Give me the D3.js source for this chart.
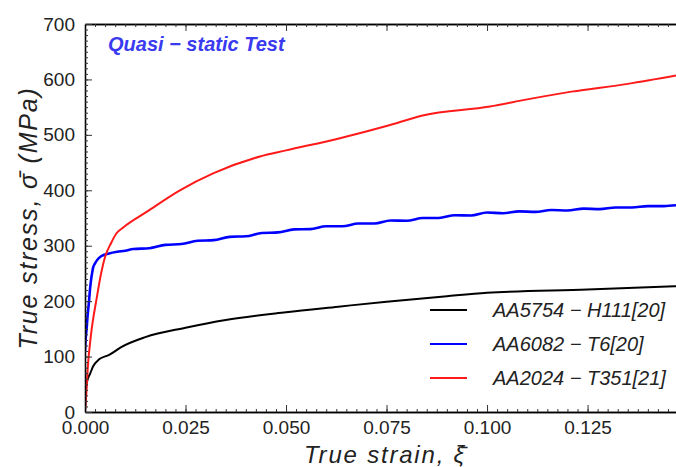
<!DOCTYPE html>
<html>
<head>
    <meta charset="utf-8">
    <script src="https://cdnjs.cloudflare.com/ajax/libs/d3/7.8.5/d3.min.js"></script>
    <style>
        html, body {
            margin: 0;
            padding: 0;
            background: #fff;
        }
    </style>
</head>
<body>
    <div id="chart"></div>
    <script>
        // AA5754-H111 [20]
        const strain5754 = [0, 0.0003, 0.0008, 0.0012, 0.002, 0.0035, 0.006, 0.009, 0.015, 0.025, 0.035, 0.05, 0.063, 0.075, 0.09, 0.1, 0.125, 0.147];
        const stress5754 = [0, 45, 62, 68, 82, 95, 103, 117, 135, 152, 166, 180, 190, 199, 209, 215, 221, 227];

        // AA6082-T6 [20]
        const strain6082 = [0, 0.0002, 0.0004, 0.0006, 0.0008, 0.001, 0.0012, 0.0015, 0.0018, 0.002, 0.0025, 0.003, 0.004, 0.006, 0.008, 0.01,
            0.012, 0.016, 0.020, 0.024, 0.028, 0.032, 0.036, 0.040, 0.044, 0.048, 0.052, 0.056, 0.060, 0.064, 0.068, 0.072,
            0.076, 0.080, 0.084, 0.088, 0.092, 0.096, 0.100, 0.104, 0.108, 0.112, 0.116, 0.120, 0.124, 0.128, 0.132, 0.136,
            0.140, 0.144, 0.147];
        const stress6082 = [110, 135, 150, 170, 185, 200, 218, 238, 252, 260, 268, 274, 281, 286, 289, 291,
            294, 295.5, 301.5, 303, 309, 310, 316, 317, 323, 324, 329.5, 330, 335, 335, 340, 340,
            345.5, 345, 350, 350, 355, 354.5, 360, 358.5, 362, 361, 364.5, 363.5, 367, 366, 369, 369,
            371.5, 371.5, 373];

        // AA2024-T351 [21]
        const strain2024 = [0, 0.0003, 0.0007, 0.0015, 0.0029, 0.004, 0.005, 0.0065, 0.0078, 0.0095, 0.0153, 0.0236, 0.032, 0.0435, 0.05, 0.0634, 0.075, 0.084, 0.1007, 0.11, 0.121, 0.135, 0.147];
        const stress2024 = [0, 30, 81, 140, 205, 250, 280, 305, 322, 333, 361, 400, 431, 461, 472, 494, 516, 535, 551, 564, 578, 592, 607];

        const seriesNames = ['AA5754 − H111[20]', 'AA6082 − T6[20]', 'AA2024 − T351[21]'];
        const seriesColors = ['#000000', '#0000ff', '#ff1a1a'];
        const xTicks = [0, 0.025, 0.05, 0.075, 0.1, 0.125];
        const yTicks = [0, 100, 200, 300, 400, 500, 600, 700];

        const font = '"Liberation Sans", Arial, sans-serif';

        const width = 676, height = 467;
        const margin = { top: 24, right: 0, bottom: 55, left: 85 };

        const svg = d3.select('#chart').append('svg')
            .attr('width', width)
            .attr('height', height);

        const x = d3.scaleLinear().domain([0, 0.147]).range([margin.left, width - margin.right]);
        const y = d3.scaleLinear().domain([0, 700]).range([height - margin.bottom, margin.top]);

        const series = [
            { strain: strain5754, stress: stress5754, w: 2 },
            { strain: strain6082, stress: stress6082, w: 2.6 },
            { strain: strain2024, stress: stress2024, w: 2 }
        ];

        const line = d3.line()
            .x(d => x(d[0]))
            .y(d => y(d[1]))
            .curve(d3.curveMonotoneX);

        svg.append('defs').append('clipPath').attr('id', 'clip')
            .append('rect')
            .attr('x', margin.left).attr('y', margin.top)
            .attr('width', width - margin.left - margin.right)
            .attr('height', height - margin.top - margin.bottom);

        // curves
        const g = svg.append('g').attr('clip-path', 'url(#clip)');
        series.forEach((s, i) => {
            g.append('path')
                .datum(s.strain.map((v, j) => [v, s.stress[j]]))
                .attr('fill', 'none')
                .attr('stroke', seriesColors[i])
                .attr('stroke-width', s.w)
                .attr('stroke-linejoin', 'round')
                .attr('d', line);
        });

        // axes, ticks inward
        const xMinor = d3.range(0, 0.1471, 0.0025);
        const yMinor = d3.range(0, 701, 10);

        svg.append('g')
            .attr('transform', `translate(0,${y(0)})`)
            .call(d3.axisBottom(x).tickValues(xTicks).tickFormat(d3.format('.3f')).tickSizeInner(-7).tickSizeOuter(0).tickPadding(9));
        svg.append('g')
            .attr('transform', `translate(0,${y(0)})`)
            .call(d3.axisBottom(x).tickValues(xMinor).tickFormat('').tickSizeInner(-3).tickSizeOuter(0));

        svg.append('g')
            .attr('transform', `translate(0,${y(700)})`)
            .call(d3.axisTop(x).tickValues(xTicks).tickFormat('').tickSizeInner(-7).tickSizeOuter(0));
        svg.append('g')
            .attr('transform', `translate(0,${y(700)})`)
            .call(d3.axisTop(x).tickValues(xMinor).tickFormat('').tickSizeInner(-3).tickSizeOuter(0));

        svg.append('g')
            .attr('transform', `translate(${x(0)},0)`)
            .call(d3.axisLeft(y).tickValues(yTicks).tickSizeInner(-7).tickSizeOuter(0).tickPadding(10));
        svg.append('g')
            .attr('transform', `translate(${x(0)},0)`)
            .call(d3.axisLeft(y).tickValues(yMinor).tickFormat('').tickSizeInner(-3).tickSizeOuter(0));

        svg.selectAll('.domain').attr('stroke', '#000').attr('stroke-width', 1.3);
        svg.selectAll('.tick line').attr('stroke', '#333');
        svg.selectAll('.tick text')
            .attr('font-family', font)
            .attr('font-size', 19)
            .attr('fill', '#222');

        // legend
        const legend = svg.append('g');
        seriesNames.forEach((name, i) => {
            const ly = 310 + i * 34;
            legend.append('line')
                .attr('x1', 430).attr('x2', 467)
                .attr('y1', ly).attr('y2', ly)
                .attr('stroke', seriesColors[i])
                .attr('stroke-width', 2);
            legend.append('text')
                .attr('x', 493).attr('y', ly + 7)
                .attr('font-family', font)
                .attr('font-size', 20)
                .attr('font-style', 'italic')
                .attr('fill', '#222')
                .text(name);
        });

        // annotation
        svg.append('text')
            .attr('x', 108).attr('y', 51)
            .attr('font-family', font)
            .attr('font-size', 20)
            .attr('font-style', 'italic')
            .attr('font-weight', 'bold')
            .attr('fill', '#3a3af0')
            .text('Quasi − static Test');

        // axis titles
        svg.append('text')
            .attr('x', 385).attr('y', 463)
            .attr('text-anchor', 'middle')
            .attr('font-family', font)
            .attr('font-size', 24)
            .attr('font-style', 'italic')
            .attr('letter-spacing', 1.8)
            .attr('fill', '#222')
            .text('True strain, ξ̄');

        svg.append('text')
            .attr('transform', `translate(37,218) rotate(-90)`)
            .attr('text-anchor', 'middle')
            .attr('font-family', font)
            .attr('font-size', 25)
            .attr('font-style', 'italic')
            .attr('letter-spacing', 1.8)
            .attr('fill', '#222')
            .text('True stress, σ̄ (MPa)');
    </script>
</body>
</html>
